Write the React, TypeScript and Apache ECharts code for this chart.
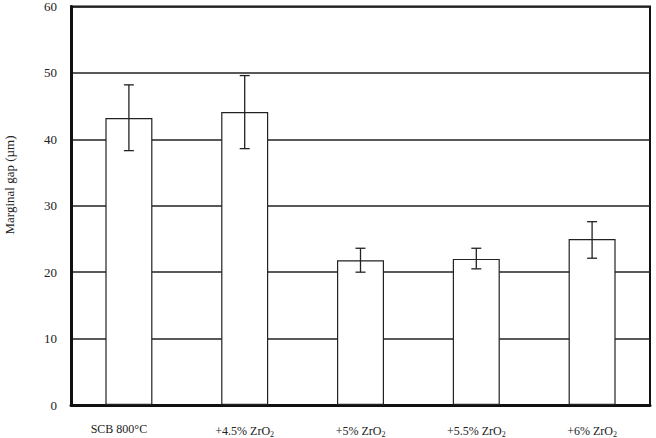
import React, { useEffect, useRef } from "react";
import * as echarts from "echarts";

const categories = ["SCB 800°C", "+4.5% ZrO{sub|2}", "+5% ZrO{sub|2}", "+5.5% ZrO{sub|2}", "+6% ZrO{sub|2}"];
const means = [43.2, 44.1, 21.8, 22.0, 25.0];
const errLow = [38.3, 38.6, 20.0, 20.5, 22.1];
const errHigh = [48.2, 49.6, 23.6, 23.6, 27.6];
const yTicks = [0, 10, 20, 30, 40, 50, 60];

const FONT = "'Liberation Serif', 'DejaVu Serif', serif";

export default function App() {
  const ref = useRef<HTMLDivElement>(null);
  useEffect(() => {
    if (!ref.current) return;
    const chart = echarts.init(ref.current, null, { renderer: "svg" });
    const errData = categories.map((_, i) => [i, errLow[i], errHigh[i]]);
    const xData = categories.map((c, i) =>
      i === 0 ? { value: c, textStyle: { padding: [0, 20, 0, 0] } } : c
    );
    chart.setOption({
      animation: false,
      backgroundColor: "#fff",
      grid: {
        left: 71,
        top: 5,
        width: 579,
        height: 403,
        show: true,
        borderColor: "#111",
        borderWidth: 2,
        backgroundColor: "transparent",
      },
      xAxis: {
        type: "category",
        data: xData,
        axisTick: { show: false },
        axisLine: { show: true, lineStyle: { color: "#111", width: 3 } },
        axisLabel: {
          interval: 0,
          margin: 18,
          color: "#222",
          fontFamily: FONT,
          fontSize: 12,
          rich: {
            sub: { fontSize: 8, verticalAlign: "bottom", padding: [7, 0, 0, 0], fontFamily: FONT, color: "#222" },
          },
        },
      },
      yAxis: {
        type: "value",
        min: yTicks[0],
        max: yTicks[yTicks.length - 1],
        interval: 10,
        axisTick: { show: false },
        axisLine: { show: true, lineStyle: { color: "#111", width: 3 } },
        axisLabel: { color: "#222", fontFamily: FONT, fontSize: 13, margin: 14 },
        splitLine: { show: true, lineStyle: { color: "#222", width: 1.5 } },
      },
      graphic: [
        {
          type: "text",
          x: 9,
          y: 185,
          rotation: Math.PI / 2,
          style: {
            text: "Marginal gap (µm)",
            fill: "#222",
            font: `13px ${FONT}`,
            textAlign: "center",
            textVerticalAlign: "middle",
          },
        },
      ],
      series: [
        {
          type: "bar",
          data: means,
          barWidth: 47,
          itemStyle: { color: "#fff", borderColor: "#222", borderWidth: 1.2 },
          z: 2,
        },
        {
          type: "custom",
          data: errData,
          z: 3,
          renderItem: (params: any, api: any) => {
            const x = api.value(0);
            const lo = api.coord([x, api.value(1)]);
            const hi = api.coord([x, api.value(2)]);
            const cap = 5;
            const style = { stroke: "#222", lineWidth: 1.3 };
            return {
              type: "group",
              children: [
                { type: "line", shape: { x1: lo[0], y1: lo[1], x2: hi[0], y2: hi[1] }, style },
                { type: "line", shape: { x1: hi[0] - cap, y1: hi[1], x2: hi[0] + cap, y2: hi[1] }, style },
                { type: "line", shape: { x1: lo[0] - cap, y1: lo[1], x2: lo[0] + cap, y2: lo[1] }, style },
              ],
            };
          },
        },
      ],
    });
    return () => chart.dispose();
  }, []);
  return <div ref={ref} style={{ position: "absolute", left: 0, top: 0, width: 656, height: 438 }} />;
}
